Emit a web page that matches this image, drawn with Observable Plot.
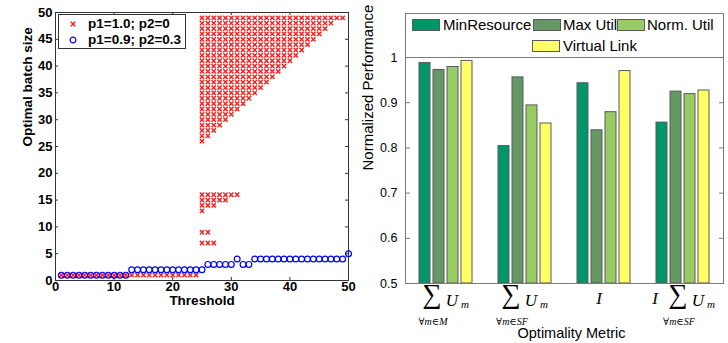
<!DOCTYPE html>
<html><head><meta charset="utf-8">
<script src="https://cdn.jsdelivr.net/npm/d3@7"></script>
<script src="https://cdn.jsdelivr.net/npm/@observablehq/plot@0.6"></script>
<style>
body{margin:0;background:#fff}
#root{position:relative;width:728px;height:343px;overflow:hidden;background:#fff;font-family:"Liberation Sans",Arial,sans-serif;color:#000}
.abs{position:absolute}
.lt{position:absolute;white-space:nowrap}
</style></head><body>
<div id="root">
  <div id="left" class="abs" style="left:0;top:0"></div>
  <div id="right" class="abs" style="left:360px;top:0"></div>
  <div id="rightAxes" class="abs" style="left:360px;top:0"></div>
</div>
<script>
// ================= LEFT PANEL DATA =================
const xTicksL = [0, 10, 20, 30, 40, 50];
const yTicksL = [0, 5, 10, 15, 20, 25, 30, 35, 40, 45, 50];
const seriesNamesL = ["p1=1.0; p2=0", "p1=0.9; p2=0.3"];

// blue series (p1=0.9; p2=0.3): optimal batch size for thresholds 1..50
const blueThreshold = [1,2,3,4,5,6,7,8,9,10,11,12,13,14,15,16,17,18,19,20,21,22,23,24,25,
  26,27,28,29,30,31,32,33,34,35,36,37,38,39,40,41,42,43,44,45,46,47,48,49,50];
const blueBatch = [1,1,1,1,1,1,1,1,1,1,1,1, 2,2,2,2,2,2,2,2,2,2,2,2,2,
  3,3,3,3,3, 4, 3,3, 4,4,4,4,4,4,4,4,4,4,4,4,4,4,4,4, 5];

// red series (p1=1.0; p2=0): several optimal batch sizes per threshold
const redLowThreshold = [1,2,3,4,5,6,7,8,9,10,11,12,13,14,15,16,17,18,19,20,21,22,23,24];
const redLowBatch = [1,1,1,1,1,1,1,1,1,1,1,1,1,1,1,1,1,1,1,1,1,1,1,1];
const redMidThreshold = [25,25,25,25,25,25, 26,26,26,26,26, 27,27,27,27, 28,28, 29,29, 30, 31];
const redMidBatch     = [ 7, 9,13,14,15,16,  7, 9,14,15,16,  7,14,15,16, 15,16, 15,16, 16, 16];
// upper block: for each threshold, all batch sizes from low to high
const redTriThreshold = [25,26,27,28,29,30,31,32,33,34,35,36,37,38,39,40,41,42,43,44,45,46,47,48,49];
const redTriLow       = [26,27,28,29,30,31,32,33,34,35,36,37,38,39,40,41,42,43,44,45,46,47,48,49,49];
const redTriHigh      = [49,49,49,49,49,49,49,49,49,49,49,49,49,49,49,49,49,49,49,49,49,49,49,49,49];

// ================= RIGHT PANEL DATA =================
const methods = ["MinResource", "Max Util", "Norm. Util", "Virtual Link"];
const methodColors = ["#00966a", "#659865", "#98cb64", "#ffff66"];
const metricKeys = ["sumM", "sumSF", "I", "IsumSF"];
const metricPrefix = ["", "", "I", "I"];          // leading italic I
const metricSumSet = ["∀m∈M", "∀m∈SF", "", "∀m∈SF"]; // summation set ("" = no sum)
const minResource = [0.988, 0.804, 0.943, 0.856];
const maxUtil     = [0.9725, 0.956, 0.839, 0.9245];
const normUtil    = [0.979, 0.894, 0.879, 0.919];
const virtualLink = [0.9925, 0.854, 0.970, 0.927];
const yTicksR = [0.5, 0.6, 0.7, 0.8, 0.9, 1];
const yTickLabelsR = ["0.5", "0.6", "0.7", "0.8", "0.9", "1"];

// ================= BUILD TABLES =================
const bluePts = blueThreshold.map((t, i) => ({t, b: blueBatch[i]}));
const redPts = [];
redLowThreshold.forEach((t, i) => redPts.push({t, b: redLowBatch[i]}));
redMidThreshold.forEach((t, i) => redPts.push({t, b: redMidBatch[i]}));
redTriThreshold.forEach((t, i) => { for (let b = redTriLow[i]; b <= redTriHigh[i]; b++) redPts.push({t, b}); });

const seriesR = [minResource, maxUtil, normUtil, virtualLink];
const perf = [];
metricKeys.forEach((k, i) => methods.forEach((m, j) => perf.push({metric: k, method: m, value: seriesR[j][i]})));

// ================= LEFT PLOT =================
const W1 = 360, H1 = 343, mL1 = 55, mR1 = 12, mT1 = 12, mB1 = 63;
const iw1 = W1 - mL1 - mR1, ih1 = H1 - mT1 - mB1;
const axisColL = "#333";
const leftPlot = Plot.plot({
  width: W1, height: H1, marginLeft: mL1, marginRight: mR1, marginTop: mT1, marginBottom: mB1,
  style: {fontFamily: "'Liberation Sans', Arial, sans-serif", fontSize: "13px", fontWeight: "bold", color: "#000", background: "transparent", overflow: "visible"},
  x: {domain: [0, 50]},
  y: {domain: [0, 50]},
  marks: [
    Plot.ruleX(xTicksL, {x: d => d, insetTop: ih1 - 3, stroke: axisColL}),
    Plot.ruleX(xTicksL, {x: d => d, insetBottom: ih1 - 3, stroke: axisColL}),
    Plot.ruleY(yTicksL, {y: d => d, insetRight: iw1 - 3, stroke: axisColL}),
    Plot.ruleY(yTicksL, {y: d => d, insetLeft: iw1 - 3, stroke: axisColL}),
    Plot.frame({stroke: axisColL}),
    Plot.axisX({ticks: xTicksL, tickFormat: d => String(d), tickSize: 0, tickPadding: 1, label: null}),
    Plot.axisY({ticks: yTicksL, tickFormat: d => String(d), tickSize: 0, tickPadding: 3, label: null}),
    Plot.dot(redPts, {x: "t", y: "b", symbol: "times", r: 2.1, stroke: "#ff1a1a", strokeWidth: 1.4}),
    Plot.dot(bluePts, {x: "t", y: "b", r: 2.9, stroke: "#0000ff", strokeWidth: 1.2}),
    Plot.text(["Threshold"], {text: d => d, frameAnchor: "bottom", dy: 24, fontSize: 13.5, fontWeight: "bold"}),
    Plot.text(["Optimal batch size"], {text: d => d, frameAnchor: "left", rotate: -90, dx: -28, fontSize: 13.5, fontWeight: "bold"})
  ]
});
document.getElementById("left").appendChild(leftPlot);

// ================= RIGHT PLOT =================
const W2 = 368, H2 = 343, mL2 = 45, mR2 = 5, mT2 = 57, mB2 = 60;
const iw2 = W2 - mL2 - mR2;
const axisColR = "#7a7a7a";
const serif = "'Liberation Serif', 'Times New Roman', 'DejaVu Serif', serif";

// layout of the math labels under each group (offsets from the group centre)
function mathMarks() {
  const marks = [];
  metricKeys.forEach((k, i) => {
    const hasI = metricPrefix[i] !== "", hasSum = metricSumSet[i] !== "";
    const shift = hasI && hasSum ? 9 : 0;
    const base = {fx: d => d, frameAnchor: "bottom", fontFamily: serif, fill: "#000", fontWeight: "normal"};
    if (hasI) {
      marks.push(Plot.text([k], {...base, text: () => metricPrefix[i], dx: hasSum ? -28 : -5, dy: 20.5, lineAnchor: "bottom", fontSize: 17, fontStyle: "italic"}));
    }
    if (hasSum) {
      marks.push(Plot.text([k], {...base, text: () => "∑", dx: -14 + shift, dy: 19, lineAnchor: "bottom", fontSize: 27}));
      marks.push(Plot.text([k], {...base, text: () => "U", dx: 6 + shift, dy: 22.5, lineAnchor: "bottom", fontSize: 17, fontStyle: "italic"}));
      marks.push(Plot.text([k], {...base, text: () => "m", dx: 19 + shift, dy: 24.5, lineAnchor: "bottom", fontSize: 11, fontStyle: "italic"}));
      marks.push(Plot.text([k], {...base, text: () => metricSumSet[i], dx: -13 + shift, dy: 41, lineAnchor: "bottom", fontSize: 10, fontStyle: "italic"}));
    }
  });
  return marks;
}

// bars (faceted by metric)
const rightPlot = Plot.plot({
  width: W2, height: H2, marginLeft: mL2, marginRight: mR2, marginTop: mT2, marginBottom: mB2,
  style: {fontFamily: "'Liberation Sans', Arial, sans-serif", fontSize: "12.5px", color: "#000", background: "transparent", overflow: "visible"},
  fx: {domain: metricKeys, padding: 0, axis: null},
  x: {domain: methods, paddingInner: 0.18, paddingOuter: 0.74, axis: null},
  y: {domain: [0.5, 1], axis: null},
  color: {domain: methods, range: methodColors},
  marks: [
    Plot.barY(perf, {fx: "metric", x: "method", y1: () => 0.5, y2: "value", fill: "method", stroke: "#5a5a5a", strokeWidth: 1}),
    ...mathMarks()
  ]
});
document.getElementById("right").appendChild(rightPlot);

// axes box, ticks and titles (same scale, not faceted), overlaid
const rightAxes = Plot.plot({
  width: W2, height: H2, marginLeft: mL2, marginRight: mR2, marginTop: mT2, marginBottom: mB2,
  style: {fontFamily: "'Liberation Sans', Arial, sans-serif", fontSize: "12.5px", color: "#000", background: "transparent", overflow: "visible"},
  y: {domain: [0.5, 1]},
  marks: [
    Plot.frame({stroke: axisColR}),
    Plot.ruleY(yTicksR, {y: d => d, insetRight: iw2 - 5, stroke: axisColR}),
    Plot.ruleY(yTicksR, {y: d => d, insetLeft: iw2 - 4, stroke: axisColR}),
    Plot.axisY({ticks: yTicksR, tickFormat: d => yTickLabelsR[yTicksR.indexOf(d)], tickSize: 0, tickPadding: 8, label: null}),
    Plot.text(["Optimality Metric"], {text: d => d, frameAnchor: "bottom", dy: 54, dx: 7, fontSize: 14.5}),
    Plot.text(["Normalized Performance"], {text: d => d, frameAnchor: "left", rotate: -90, dx: -37, fontSize: 15})
  ]
});
document.getElementById("rightAxes").appendChild(rightAxes);

// ================= LEGENDS (HTML overlays) =================
const root = document.getElementById("root");
function el(html) { const t = document.createElement("div"); t.innerHTML = html; const n = t.firstElementChild; root.appendChild(n); return n; }

// left legend
el(`<div class="abs" style="left:58px;top:14px;width:128px;height:35px;box-sizing:border-box;border:1px solid #333;background:#fff"></div>`);
const legMarkL = [
  `<svg width="8" height="8" viewBox="-4 -4 8 8"><path d="M-2.2,-2.2L2.2,2.2M-2.2,2.2L2.2,-2.2" stroke="#ff1a1a" stroke-width="1.4"/></svg>`,
  `<svg width="8" height="8" viewBox="-4 -4 8 8"><circle r="2.9" fill="none" stroke="#0000ff" stroke-width="1.2"/></svg>`
];
[24, 40].forEach((cy, i) => {
  el(`<div class="lt" style="left:69px;top:${cy - 4}px;width:8px;height:8px;line-height:0">${legMarkL[i]}</div>`);
  el(`<div class="lt" style="left:88px;top:${cy - 8}px;line-height:16px;font-size:13.5px;font-weight:bold">${seriesNamesL[i]}</div>`);
});

// right legend
el(`<div class="abs" style="left:405px;top:13px;width:319px;height:45px;box-sizing:border-box;border:1px solid ${axisColR};border-bottom:none"></div>`);
const legPosR = [[412, 443, 25], [533, 563, 25], [617, 647, 25], [532, 563, 46]];
methods.forEach((m, i) => {
  const [sx, tx, cy] = legPosR[i];
  el(`<div class="abs" style="left:${sx}px;top:${cy - 6}px;width:28px;height:12px;box-sizing:border-box;border:1px solid #5a5a5a;background:${methodColors[i]}"></div>`);
  el(`<div class="lt" style="left:${tx}px;top:${cy - 9}px;line-height:18px;font-size:15px">${m}</div>`);
});
</script>
</body></html>
